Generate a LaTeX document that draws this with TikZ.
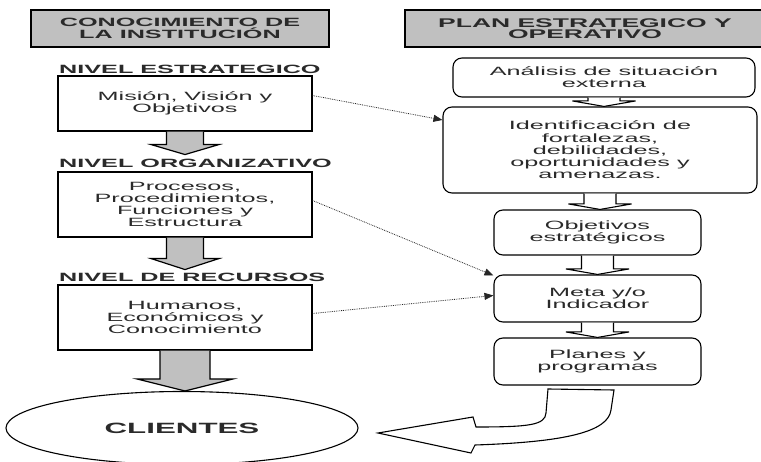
\documentclass[tikz,border=0pt]{standalone}
\usepackage{fontspec}
\setmainfont{Liberation Sans}[FakeStretch=2.1]
\usetikzlibrary{calc,arrows.meta,shapes.geometric}

\definecolor{hdrgray}{HTML}{C0C0C0}
\definecolor{txt}{HTML}{2A2A2A}

% block arrow pointing down, from the bottom of #2 to the point #3
% #4 half shaft width, #5 half head width, #6 head height
\newcommand\blockdown[6]{%
  \filldraw[#1] let \p1=(#2.south), \p2=(#3) in
    (\x1-#4,\y1) -- (\x1-#4,\y2+#6) -- (\x1-#5,\y2+#6) -- (\x1,\y2)
    -- (\x1+#5,\y2+#6) -- (\x1+#4,\y2+#6) -- (\x1+#4,\y1);
}

\begin{document}
\begin{tikzpicture}[x=1pt,y=-1pt,
  every node/.style={text=txt},
  hdr/.style={draw=black, line width=1.3pt, fill=hdrgray, align=center,
    minimum height=37pt, inner sep=0pt,
    font=\bfseries\fontsize{12}{11.5}\selectfont},
  lvl/.style={anchor=west, inner sep=1pt, font=\bfseries\fontsize{12}{12}\selectfont},
  sqbox/.style={draw=black, line width=1.1pt, minimum width=254pt, align=center,
    inner sep=0pt, font=\fontsize{12}{12.2}\selectfont},
  rbox/.style={draw=black, line width=1.1pt, rounded corners=9pt, align=center,
    inner sep=0pt, font=\fontsize{12}{12.2}\selectfont},
  grayblock/.style={fill=hdrgray, draw=black, line width=1.2pt},
  hollowblock/.style={fill=white, draw=black, line width=1.1pt},
  link/.style={densely dotted, line width=0.8pt, draw=black!85,
    -{Triangle[length=9pt,width=7pt]}},
]
\useasboundingbox (0,0) rectangle (761,462);

% column headers
\node[hdr, minimum width=298pt] (hdrleft) at (180,28.5)
  {CONOCIMIENTO DE\\LA INSTITUCIÓN};
\node[hdr, minimum width=360pt, font=\bfseries\fontsize{12.6}{11.5}\selectfont]
  (hdrright) at (585,28.5) {PLAN ESTRATEGICO Y\\OPERATIVO};

% left column: levels of the institution
\node[lvl] (lvlest) at (58,69) {NIVEL ESTRATEGICO};
\node[sqbox, minimum height=55pt] (mision) at (185,103.5)
  {Misión, Visión y\\Objetivos};
\node[lvl] (lvlorg) at (58,163) {NIVEL ORGANIZATIVO};
\node[sqbox, minimum height=65pt] (procesos) at (185,204.5)
  {Procesos,\\Procedimientos,\\Funciones y\\Estructura};
\node[lvl] (lvlrec) at (58,277) {NIVEL DE RECURSOS};
\node[sqbox, minimum height=65pt] (humanos) at (185,317.5)
  {Humanos,\\Económicos y\\Conocimiento};
\node[ellipse, draw=black, line width=1.1pt, minimum width=352pt,
  minimum height=73pt, inner sep=0pt] (clientes) at (182,428)
  {\bfseries\fontsize{14.9}{15}\selectfont CLIENTES};

% right column: planning sequence
\node[rbox, minimum width=302pt, minimum height=39pt] (analisis) at (604,77.5)
  {Análisis de situación\\externa};
\node[rbox, minimum width=314pt, minimum height=86pt] (identif) at (600,150)
  {Identificación de\\fortalezas,\\debilidades,\\oportunidades y\\amenazas.};
\node[rbox, minimum width=207pt, minimum height=45pt] (objetivos) at (597.5,232.5)
  {Objetivos\\estratégicos};
\node[rbox, minimum width=207pt, minimum height=47pt] (meta) at (597.5,298.5)
  {Meta y/o\\Indicador};
\node[rbox, minimum width=207pt, minimum height=47pt] (planes) at (597.5,361.5)
  {Planes y\\programas};

% gray block arrows down the left column (tips stop just above the level labels)
\blockdown{grayblock}{mision}{$(lvlorg.north)+(0,-3)$}{18.5pt}{34pt}{10pt}
\blockdown{grayblock}{procesos}{$(lvlrec.north)+(0,-2)$}{18.5pt}{34pt}{11pt}
\blockdown{grayblock}{humanos}{clientes.north}{25pt}{48pt}{12pt}

% hollow arrows down the right column
\blockdown{hollowblock}{analisis}{identif.north}{16pt}{31.5pt}{5.5pt}
\blockdown{hollowblock}{identif}{objetivos.north}{16pt}{31.5pt}{5.5pt}
\blockdown{hollowblock}{objetivos}{meta.north}{16pt}{31.5pt}{5.5pt}
\blockdown{hollowblock}{meta}{planes.north}{16pt}{31.5pt}{5.5pt}

% curved hollow arrow from the plans back to the clients
\draw[hollowblock, line join=miter]
  (548,389) -- (546,413) .. controls (545,425) and (530,427) .. (476,427)
  -- (473,417) -- (378,433) -- (471,453) -- (475,445)
  .. controls (565,442) and (608,432) .. (611,410) -- (614,390) -- cycle;

% dotted links between the columns
\draw[link] ($(mision.east)+(0,-8)$) -- ($(identif.west)+(0,-30)$);
\draw[link] ($(procesos.east)+(0,-4)$) -- ($(meta.west)+(0,-23)$);
\draw[link] ($(humanos.east)+(0,-4)$) -- ($(meta.west)+(0,-3)$);
\end{tikzpicture}
\end{document}
